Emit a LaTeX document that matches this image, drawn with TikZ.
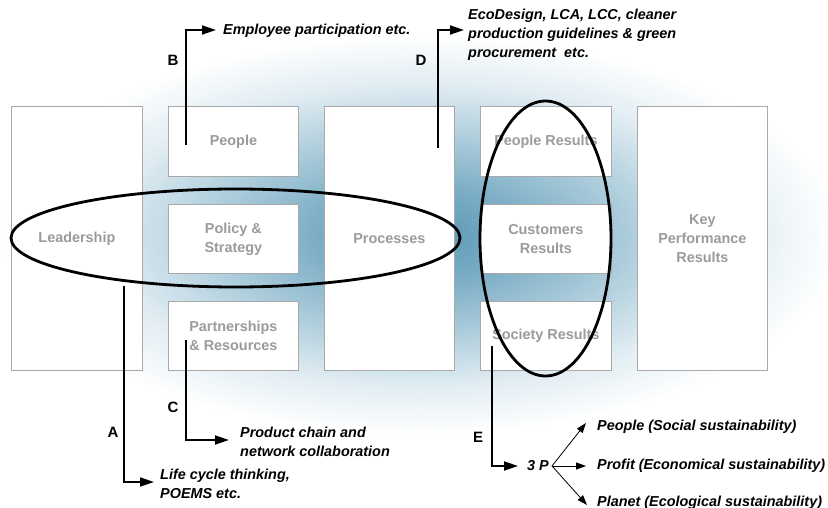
\documentclass[tikz,border=0pt]{standalone}
\usepackage{fontspec}
\setmainfont{Liberation Sans}
\usetikzlibrary{arrows.meta}
\definecolor{boxline}{HTML}{A9A9A9}
\definecolor{boxtext}{HTML}{9B9B9B}
\definecolor{gA}{HTML}{5A97B4}
\definecolor{gB}{HTML}{7BADC5}
\definecolor{gC}{HTML}{B2D0DE}
\definecolor{gD}{HTML}{E2EDF3}
\pgfdeclareradialshading{glow}{\pgfpoint{0bp}{0bp}}{color(0bp)=(gA); color(6bp)=(gB); color(13bp)=(gC); color(19bp)=(gD); color(25bp)=(white); color(50bp)=(white)}
\begin{document}
\begin{tikzpicture}[x=1pt,y=-1pt,
  box/.style={draw=boxline, line width=0.8pt, fill=white, inner sep=0pt, align=center,
    text=boxtext, font=\fontsize{14.4}{19}\selectfont\bfseries, anchor=north west},
  ring/.style={draw=black, line width=2.8pt},
  conn/.style={draw=black, line width=1.8pt, -{Triangle[length=14pt,width=9pt]}},
  thin/.style={draw=black, line width=0.8pt, -{Triangle[length=10pt,width=7pt]}},
  note/.style={inner sep=0pt, anchor=west, align=left, font=\fontsize{14.4}{19}\selectfont\bfseries\itshape},
  lbl/.style={inner sep=0pt, font=\fontsize{15}{18}\selectfont\bfseries}]
\useasboundingbox (0,0) rectangle (828,508);
\fill[white] (0,0) rectangle (828,508);
\shade[shading=glow] (420,235) ellipse [x radius=420, y radius=200];
% boxes
\node[box, minimum width=131pt, minimum height=264pt] (lead) at (11,106) {Leadership};
\node[box, minimum width=130pt, minimum height=70pt] (people) at (168,106) {People};
\node[box, minimum width=130pt, minimum height=69pt] (policy) at (168,204) {Policy \&\\Strategy};
\node[box, minimum width=130pt, minimum height=69pt] (partner) at (168,301) {Partnerships\\\& Resources};
\node[box, minimum width=130pt, minimum height=264pt] (proc) at (324,106) {Processes};
\node[box, minimum width=131pt, minimum height=70pt] (peopler) at (480,106) {People Results};
\node[box, minimum width=131pt, minimum height=69pt] (custr) at (480,204) {Customers\\Results};
\node[box, minimum width=131pt, minimum height=69pt] (socr) at (480,301) {Society Results};
\node[box, minimum width=130pt, minimum height=264pt] (kpr) at (637,106) {Key\\Performance\\Results};
% ellipses
\draw[ring] (235.5,238) ellipse [x radius=224.5, y radius=49];
\draw[ring] (545.5,238.5) ellipse [x radius=65.5, y radius=137.5];
% notes
\node[note] (nb) at (223,31) {Employee participation etc.};
\node[note] (nd) at (468,35) {EcoDesign, LCA, LCC, cleaner\\production guidelines \& green\\procurement\ \ etc.};
\node[note] (nc) at (240,442) {Product chain and\\network collaboration};
\node[note] (na) at (160,484) {Life cycle thinking,\\POEMS etc.};
\node[note] (n3p) at (527,466) {3 P};
\node[note] (np1) at (597,427) {People (Social sustainability)};
\node[note] (np2) at (597,466) {Profit (Economical sustainability)};
\node[note] (np3) at (597,503) {Planet (Ecological sustainability)};
% labels
\node[lbl] (la) at (113,432) {A};
\node[lbl] (lb) at (173,60) {B};
\node[lbl] (lc) at (173,407) {C};
\node[lbl] (ld) at (421,60) {D};
\node[lbl] (le) at (478,437) {E};
% connector points
\coordinate (bs) at (186,145);
\coordinate (bt) at (216,30);
\coordinate (ds) at (438,148);
\coordinate (dt) at (464,30);
\coordinate (as) at (124,286);
\coordinate (at) at (154,482);
\coordinate (cs) at (186,340);
\coordinate (ct) at (229,440);
\coordinate (es) at (492,346);
\coordinate (et) at (518,466);
\coordinate (fork) at (552,466);
\coordinate (t1) at (586,423);
\coordinate (t2) at (586,466);
\coordinate (t3) at (587,505);
% connectors
\draw[conn] (bs) |- (bt);
\draw[conn] (ds) |- (dt);
\draw[conn] (as) |- (at);
\draw[conn] (cs) |- (ct);
\draw[conn] (es) |- (et);
\draw[thin] (fork) -- (t1);
\draw[thin] (fork) -- (t2);
\draw[thin] (fork) -- (t3);
\end{tikzpicture}
\end{document}
